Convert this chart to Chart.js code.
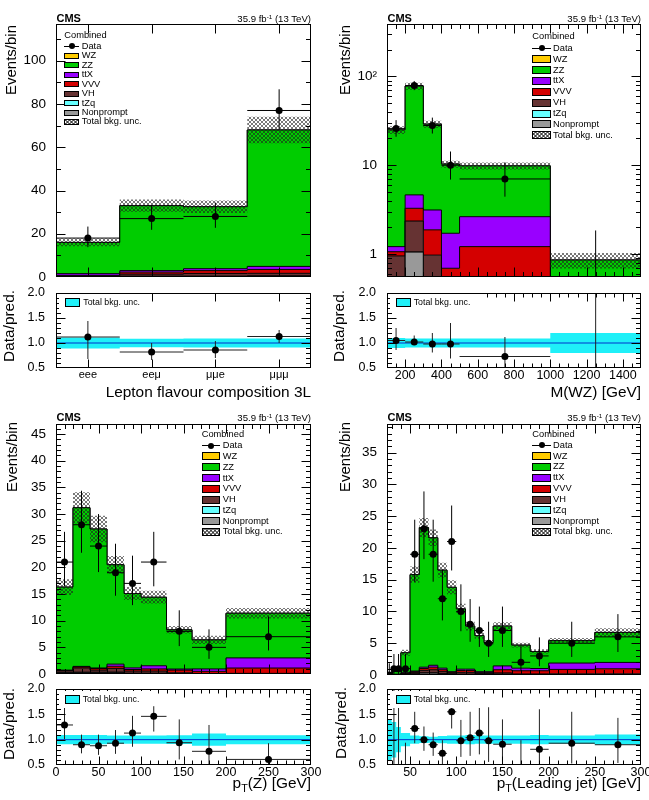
<!DOCTYPE html>
<html><head><meta charset="utf-8">
<script src="https://cdn.jsdelivr.net/npm/chart.js@4.4.1/dist/chart.umd.min.js"></script>
<style>
html,body{margin:0;padding:0;background:#fff;}
body{position:relative;width:649px;height:800px;overflow:hidden;font-family:"Liberation Sans",Arial,Helvetica,sans-serif;}
canvas{position:absolute;}
.t{position:absolute;white-space:nowrap;color:#000;line-height:1;}
.t sup{font-size:0.65em;line-height:0;position:relative;vertical-align:baseline;top:-0.5em;}
.t sub{font-size:0.7em;line-height:0;position:relative;vertical-align:baseline;top:0.35em;}
.sw{position:absolute;box-sizing:border-box;border:1px solid #000;}
.blk{position:absolute;background:#000;}
</style></head><body>
<script>
// ---------------- DATA ----------------
// Panel 1: lepton flavour composition
const flavLabels = ['eee', 'eeμ', 'μμe', 'μμμ'];
const flavEdges = [0, 1, 2, 3, 4];
const flavNonprompt = [0.1, 0.3, 0.3, 0.4];
const flavTZq = [0.05, 0.05, 0.05, 0.1];
const flavVH = [0.3, 1.0, 1.3, 1.2];
const flavVVV = [0.3, 0.9, 1.3, 1.8];
const flavTTX = [0.8, 0.7, 0.9, 1.4];
const flavZZ = [14.45, 30.05, 28.65, 63.1];
const flavWZ = [0, 0, 0, 0];
const flavUnc = [0.11, 0.085, 0.09, 0.09];
const flavData = [18, 27, 28, 77];
const flavDataLo = [4.2, 5.17, 5.26, 8.76];
const flavDataHi = [5.32, 6.29, 6.38, 9.81];
const flavRatio = [1.12, 0.82, 0.86, 1.13];
const flavRatioLo = [0.68, 0.66, 0.70, 1.0];
const flavRatioHi = [1.44, 1.0, 1.04, 1.26];

// Panel 2: M(WZ)
const massEdges = [100, 200, 300, 400, 500, 1000, 1500];
const massNonprompt = [0, 1.05, 0, 0, 0, 0];
const massTZq = [0, 0, 0, 0, 0, 0];
const massVH = [0.95, 1.3, 0.97, 0, 0, 0];
const massVVV = [0.11, 0.92, 0.9, 0.69, 1.21, 0];
const massTTX = [0.15, 1.36, 1.26, 1.02, 1.42, 0];
const massZZ = [23.8, 73.4, 25.9, 8.6, 7.2, 0.855];
const massWZ = [0, 0, 0, 0, 0, 0];
const massUnc = [0.1, 0.09, 0.09, 0.09, 0.09, 0.2];
const massData = [26, 79, 28, 10, 7, 0];
const massDataLo = [5.07, 8.87, 5.26, 3.11, 2.58, 0];
const massDataHi = [6.2, 9.93, 6.38, 4.27, 3.77, 1.84];
const massRatio = [1.05, 1.02, 0.98, 0.98, 0.73, 0];
const massRatioLo = [0.86, 0.97, 0.81, 0.69, 0.45, 0];
const massRatioHi = [1.30, 1.15, 1.20, 1.40, 1.12, 2.15];

// Panel 3: pT(Z)
const ptzEdges = [0, 20, 40, 60, 80, 100, 130, 160, 200, 300];
const ptzNonprompt = [0.3, 0.3, 0.3, 0.3, 0.1, 0.1, 0.05, 0.02, 0.02];
const ptzTZq = [0.02, 0.03, 0.03, 0.05, 0.05, 0.05, 0.03, 0.03, 0.05];
const ptzVH = [0.3, 0.8, 0.4, 0.7, 0.4, 0.4, 0.15, 0.05, 0.05];
const ptzVVV = [0.05, 0.2, 0.3, 0.4, 0.3, 0.4, 0.5, 0.4, 1.0];
const ptzTTX = [0.05, 0.1, 0.1, 0.4, 0.3, 0.6, 0.2, 0.45, 1.9];
const ptzZZ = [15.58, 29.77, 26.07, 18.65, 13.95, 12.85, 7.37, 5.45, 8.38];
const ptzWZ = [0, 0, 0, 0, 0, 0, 0, 0, 0];
const ptzUnc = [0.09, 0.093, 0.092, 0.08, 0.08, 0.083, 0.085, 0.12, 0.088];
const ptzData = [21, 28, 24, 19, 17, 21, 8, 5, 7];
const ptzDataLo = [4.55, 5.26, 4.88, 4.32, 4.08, 4.55, 2.77, 2.16, 2.58];
const ptzDataHi = [5.67, 6.38, 6.0, 5.44, 5.2, 5.67, 3.95, 3.38, 3.77];
const ptzRatio = [1.29, 0.90, 0.88, 0.93, 1.13, 1.46, 0.94, 0.77, 0.61];
const ptzRatioLo = [1.01, 0.73, 0.70, 0.72, 0.86, 1.16, 0.61, 0.44, 0.39];
const ptzRatioHi = [1.63, 1.10, 1.10, 1.19, 1.47, 1.66, 1.40, 1.29, 0.93];

// Panel 4: pT(leading jet)
const ptjEdges = [25, 30, 35, 40, 50, 60, 70, 80, 90, 100, 110, 120, 130, 140, 160, 180, 200, 250, 300];
const ptjNonprompt = [0.05, 0.05, 0.05, 0.1, 0.15, 0.3, 0.3, 0.2, 0.1, 0.1, 0.1, 0.05, 0.05, 0.1, 0.05, 0.05, 0.05, 0.05];
const ptjTZq = [0, 0, 0, 0, 0.02, 0.03, 0.03, 0.03, 0.02, 0.02, 0.02, 0.02, 0.02, 0.03, 0.02, 0.02, 0.03, 0.03];
const ptjVH = [0.02, 0.03, 0.03, 0.1, 0.2, 0.4, 0.5, 0.3, 0.15, 0.3, 0.3, 0.15, 0.15, 0.2, 0.1, 0.1, 0.1, 0.1];
const ptjVVV = [0.02, 0.02, 0.02, 0.1, 0.15, 0.3, 0.4, 0.3, 0.15, 0.3, 0.3, 0.15, 0.15, 0.5, 0.5, 0.5, 0.7, 0.8];
const ptjTTX = [0.01, 0.02, 0.02, 0.05, 0.1, 0.2, 0.3, 0.25, 0.1, 0.2, 0.2, 0.15, 0.15, 0.6, 0.4, 0.35, 1.0, 1.0];
const ptjZZ = [0.2, 0.43, 0.45, 3.15, 15.18, 21.97, 20.07, 15.42, 13.28, 9.48, 6.78, 5.68, 4.58, 6.27, 3.63, 2.68, 3.52, 4.72];
const ptjWZ = [0, 0, 0, 0, 0, 0, 0, 0, 0, 0, 0, 0, 0, 0, 0, 0, 0, 0];
const ptjUnc = [0.4, 0.35, 0.25, 0.13, 0.08, 0.065, 0.06, 0.07, 0.08, 0.08, 0.09, 0.08, 0.08, 0.08, 0.08, 0.09, 0.08, 0.1];
const ptjData = [0, 1, 1, 1, 19, 23, 19, 12, 21, 10, 8, 7, 5, 7, 2, 3, 5, 6];
const ptjDataLo = [0, 0.83, 0.83, 0.83, 4.32, 4.77, 4.32, 3.41, 4.55, 3.11, 2.77, 2.58, 2.16, 2.58, 1.29, 1.63, 2.16, 2.38];
const ptjDataHi = [1.84, 2.3, 2.3, 2.3, 5.44, 5.89, 5.44, 4.58, 5.67, 4.27, 3.95, 3.77, 3.38, 3.77, 2.64, 2.92, 3.38, 3.58];
const ptjRatio = [null, 1.82, 1.75, 0.29, 1.22, 1.0, 0.9, 0.73, 1.55, 0.98, 1.04, 1.13, 0.98, 0.91, 0.43, 0.81, 0.93, 0.9];
const ptjRatioLo = [null, 0.31, 0.3, 0.05, 0.93, 0.78, 0.68, 0.52, 1.22, 0.66, 0.68, 0.71, 0.56, 0.57, 0.15, 0.37, 0.53, 0.54];
const ptjRatioHi = [null, 6, 5.8, 0.94, 1.55, 1.26, 1.14, 0.99, 1.95, 1.39, 1.55, 1.74, 1.64, 1.40, 0.99, 1.6, 1.55, 1.43];

// Tick labels
const flavYTicks = [0, 20, 40, 60, 80, 100];
const massYTicks = [1, 10, 100];
const ptzYTicks = [0, 5, 10, 15, 20, 25, 30, 35, 40, 45];
const ptjYTicks = [0, 5, 10, 15, 20, 25, 30, 35];
const ratioYTicks = [0.5, 1.0, 1.5, 2.0];
const massXTicks = [200, 400, 600, 800, 1000, 1200, 1400];
const ptzXTicks = [0, 50, 100, 150, 200, 250, 300];
const ptjXTicks = [50, 100, 150, 200, 250, 300];
const flavXTicks = [0.5, 1.5, 2.5, 3.5];

// ---------------- STYLE / HELPERS ----------------
const FONT = '"Liberation Sans", Arial, Helvetica, sans-serif';
Chart.defaults.font.family = FONT;
Chart.defaults.color = '#000';
const COL = {WZ: '#ffcc00', ZZ: '#00cc00', ttX: '#9900ff', VVV: '#d40000', VH: '#663333', tZq: '#66ffff', Nonprompt: '#999999'};
const CYAN = '#1ff0f8';

const hatch = (() => {
  const c = document.createElement('canvas'); c.width = 4; c.height = 4;
  const g = c.getContext('2d');
  g.strokeStyle = 'rgba(30,30,30,0.6)'; g.lineWidth = 1;
  g.beginPath(); g.moveTo(0, 0); g.lineTo(4, 4); g.moveTo(4, 0); g.lineTo(0, 4); g.stroke();
  return g.createPattern(c, 'repeat');
})();

function range(a, b, s) { const r = []; for (let v = a; v <= b + 1e-9; v += s) r.push(Math.round(v * 1000) / 1000); return r; }
function minus(arr, majors) { return arr.filter(v => !majors.some(m => Math.abs(m - v) < 1e-6)); }

const frameTicks = {
  id: 'frameTicks',
  afterDraw(chart) {
    const o = chart.canvas.tickCfg; if (!o) return;
    const {ctx, chartArea: a} = chart;
    const xs = chart.scales.x, ys = chart.scales.y;
    const L = a.left + 0.5, R = a.right - 0.5, T = a.top + 0.5, B = a.bottom - 0.5;
    ctx.save();
    ctx.strokeStyle = '#000'; ctx.lineWidth = 1;
    ctx.beginPath();
    const tx = (vals, len) => vals.forEach(v => {
      const p = Math.round(xs.getPixelForValue(v)) + 0.5; if (p < L - 0.1 || p > R + 0.1) return;
      ctx.moveTo(p, B); ctx.lineTo(p, B - len); ctx.moveTo(p, T); ctx.lineTo(p, T + len);
    });
    const ty = (vals, len) => vals.forEach(v => {
      const p = Math.round(ys.getPixelForValue(v)) + 0.5; if (p < T - 0.1 || p > B + 0.1) return;
      ctx.moveTo(L, p); ctx.lineTo(L + len, p); ctx.moveTo(R, p); ctx.lineTo(R - len, p);
    });
    tx(o.xMajor, o.xLen); tx(o.xMinor, o.xLen / 2);
    ty(o.yMajor, o.yLen); ty(o.yMinor, o.yLen / 2);
    ctx.stroke();
    ctx.strokeRect(L, T, R - L, B - T);
    ctx.restore();
  }
};
Chart.register(frameTicks);

function addCanvas(x, y, w, h) {
  const c = document.createElement('canvas');
  c.width = w; c.height = h;
  Object.assign(c.style, {left: x + 'px', top: y + 'px', width: w + 'px', height: h + 'px'});
  document.body.appendChild(c);
  return c;
}
function fitH(h) { return s => { s.height = h; s.paddingLeft = s.paddingRight = s.paddingTop = s.paddingBottom = 0; }; }
function fitW(w) { return s => { s.width = w; s.paddingLeft = s.paddingRight = s.paddingTop = s.paddingBottom = 0; }; }
function setTicks(vals) { return s => { s.ticks = vals.map(v => ({value: v})); }; }

function stepPoints(edges, vals) {
  const pts = vals.map((v, i) => ({x: edges[i], y: v}));
  pts.push({x: edges[edges.length - 1], y: vals[vals.length - 1]});
  return pts;
}
function errSegments(edges, vals, lows, highs, tf) {
  const pts = [];
  vals.forEach((v, i) => {
    if (v === null) return;
    const c = (edges[i] + edges[i + 1]) / 2;
    pts.push({x: c, y: tf(lows[i])}, {x: c, y: tf(highs[i])}, {x: c, y: null});
    pts.push({x: edges[i], y: tf(v)}, {x: edges[i + 1], y: tf(v)}, {x: edges[i + 1], y: null});
  });
  return pts;
}
function centers(edges, vals, tf) {
  return vals.map((v, i) => ({x: (edges[i] + edges[i + 1]) / 2, y: v === null ? null : tf(v)}));
}

const baseOpts = (p) => ({
  responsive: false, animation: false, events: [],
  layout: {padding: {left: 0, top: p.T, right: p.R, bottom: 0}},
  plugins: {legend: {display: false}, tooltip: {enabled: false}, title: {display: false}},
  elements: {line: {tension: 0}}
});

function makeMain(p) {
  const cv = addCanvas(p.x, p.y, p.w, p.h);
  cv.tickCfg = p.ticks;
  const tf = p.log ? (v => v === null ? null : Math.max(v, 1e-4)) : (v => v);
  const ds = [];
  const n = p.edges.length - 1;
  let cum = new Array(n).fill(0);
  p.comps.forEach((c, k) => {
    cum = cum.map((v, i) => v + c.values[i]);
    ds.push({data: stepPoints(p.edges, cum.map(tf)), stepped: true, borderColor: '#000', borderWidth: 1,
      backgroundColor: c.color, fill: k === 0 ? 'start' : '-1', pointRadius: 0, order: 20 + k});
  });
  const total = cum;
  ds.push({data: stepPoints(p.edges, total.map((v, i) => tf(v * (1 - p.unc[i])))), stepped: true,
    borderColor: 'transparent', borderWidth: 0, pointRadius: 0, fill: false, order: 4});
  ds.push({data: stepPoints(p.edges, total.map((v, i) => tf(v * (1 + p.unc[i])))), stepped: true,
    borderColor: 'transparent', borderWidth: 0, pointRadius: 0, fill: '-1', backgroundColor: hatch, order: 3});
  const lows = p.data.map((v, i) => v - p.dataLo[i]);
  const highs = p.data.map((v, i) => v + p.dataHi[i]);
  ds.push({data: errSegments(p.edges, p.data, lows, highs, tf), borderColor: '#000', borderWidth: 1,
    pointRadius: 0, fill: false, spanGaps: false, order: 1});
  const ptVals = p.data.map(v => (p.log && v === 0) ? null : v);
  ds.push({data: centers(p.edges, ptVals, tf), showLine: false, pointRadius: 3.5, pointBackgroundColor: '#000',
    pointBorderColor: '#000', pointBorderWidth: 0, order: 0});
  const opts = baseOpts(p);
  opts.scales = {
    x: {type: 'linear', min: p.xMin, max: p.xMax, bounds: 'data', grid: {display: false}, border: {display: false},
      ticks: {display: false}, afterFit: fitH(p.B)},
    y: {type: p.log ? 'logarithmic' : 'linear', min: p.yMin, max: p.yMax, bounds: 'data',
      grid: {display: false}, border: {display: false},
      ticks: {font: {size: 13.5}, padding: 2, autoSkip: false, callback: p.yLabel},
      afterBuildTicks: setTicks(p.yTicks), afterFit: fitW(p.L)}
  };
  new Chart(cv, {type: 'line', data: {datasets: ds}, options: opts});
}

function makeRatio(p) {
  const cv = addCanvas(p.x, p.y, p.w, p.h);
  cv.tickCfg = p.ticks;
  const id = v => v;
  const ds = [];
  ds.push({data: stepPoints(p.edges, p.unc.map(u => 1 - u)), stepped: true, borderColor: 'transparent', borderWidth: 0,
    pointRadius: 0, fill: false, order: 5});
  ds.push({data: stepPoints(p.edges, p.unc.map(u => 1 + u)), stepped: true, borderColor: 'transparent', borderWidth: 0,
    pointRadius: 0, fill: '-1', backgroundColor: CYAN, order: 4});
  ds.push({data: [{x: p.xMin, y: 1}, {x: p.xMax, y: 1}], borderColor: '#0033cc', borderWidth: 1, pointRadius: 0, fill: false, order: 3});
  ds.push({data: errSegments(p.edges, p.ratio, p.ratioLo, p.ratioHi, id), borderColor: '#222', borderWidth: 1,
    pointRadius: 0, fill: false, spanGaps: false, order: 1});
  ds.push({data: centers(p.edges, p.ratio, id), showLine: false, pointRadius: 3.5, pointBackgroundColor: '#000',
    pointBorderColor: '#000', pointBorderWidth: 0, order: 0});
  const opts = baseOpts(p);
  opts.scales = {
    x: {type: 'linear', min: p.xMin, max: p.xMax, bounds: 'data', grid: {display: false}, border: {display: false},
      ticks: {font: {size: p.xFont || 12.5}, padding: -8, autoSkip: false, maxRotation: 0, minRotation: 0, callback: p.xLabel},
      afterBuildTicks: setTicks(p.xTicks), afterFit: fitH(p.B)},
    y: {type: 'linear', min: 0.5, max: 2.0, bounds: 'data', grid: {display: false}, border: {display: false},
      ticks: {font: {size: 12.5}, padding: 3, autoSkip: false, callback: v => v.toFixed(1)},
      afterBuildTicks: setTicks(ratioYTicks), afterFit: fitW(p.L)}
  };
  new Chart(cv, {type: 'line', data: {datasets: ds}, options: opts});
}

function comps(np, tzq, vh, vvv, ttx, zz, wz) {
  return [
    {values: np, color: COL.Nonprompt}, {values: tzq, color: COL.tZq}, {values: vh, color: COL.VH},
    {values: vvv, color: COL.VVV}, {values: ttx, color: COL.ttX}, {values: zz, color: COL.ZZ}, {values: wz, color: COL.WZ}
  ];
}

const ratioMinor = minus(range(0.5, 2.0, 0.1), ratioYTicks);
const numLabel = v => String(v);

// ---------------- PANEL 1 ----------------
makeMain({x: 0, y: 0, w: 325, h: 300, L: 56, T: 24, R: 14, B: 23,
  edges: flavEdges, comps: comps(flavNonprompt, flavTZq, flavVH, flavVVV, flavTTX, flavZZ, flavWZ),
  unc: flavUnc, data: flavData, dataLo: flavDataLo, dataHi: flavDataHi,
  xMin: 0, xMax: 4, yMin: 0, yMax: 117, yTicks: flavYTicks, yLabel: numLabel,
  ticks: {xMajor: flavXTicks, xMinor: [], yMajor: flavYTicks, yMinor: [10, 30, 50, 70, 90, 110], xLen: 9, yLen: 9}});
makeRatio({x: 0, y: 280, w: 325, h: 120, L: 56, T: 13, R: 14, B: 32,
  edges: flavEdges, unc: flavUnc, ratio: flavRatio, ratioLo: flavRatioLo, ratioHi: flavRatioHi,
  xMin: 0, xMax: 4, xTicks: flavXTicks, xFont: 11, xLabel: v => flavLabels[Math.floor(v)],
  ticks: {xMajor: flavXTicks, xMinor: [], yMajor: ratioYTicks, yMinor: ratioMinor, xLen: 8, yLen: 9}});

// ---------------- PANEL 2 ----------------
const massLogMinor = [0.6, 0.7, 0.8, 0.9, 2, 3, 4, 5, 6, 7, 8, 9, 20, 30, 40, 50, 60, 70, 80, 90, 200, 300];
makeMain({x: 325, y: 0, w: 324, h: 300, L: 62, T: 24, R: 8, B: 23, log: true,
  edges: massEdges, comps: comps(massNonprompt, massTZq, massVH, massVVV, massTTX, massZZ, massWZ),
  unc: massUnc, data: massData, dataLo: massDataLo, dataHi: massDataHi,
  xMin: 100, xMax: 1500, yMin: 0.55, yMax: 390, yTicks: massYTicks,
  yLabel: v => (v === 100 ? '10²' : String(v)),
  ticks: {xMajor: massXTicks, xMinor: minus(range(100, 1500, 50), massXTicks), yMajor: massYTicks, yMinor: massLogMinor, xLen: 9, yLen: 9}});
makeRatio({x: 325, y: 280, w: 324, h: 120, L: 62, T: 13, R: 8, B: 32,
  edges: massEdges, unc: massUnc, ratio: massRatio, ratioLo: massRatioLo, ratioHi: massRatioHi,
  xMin: 100, xMax: 1500, xTicks: massXTicks, xLabel: numLabel,
  ticks: {xMajor: massXTicks, xMinor: minus(range(100, 1500, 50), massXTicks), yMajor: ratioYTicks, yMinor: ratioMinor, xLen: 8, yLen: 9}});

// ---------------- PANEL 3 ----------------
makeMain({x: 0, y: 400, w: 325, h: 290, L: 56, T: 24, R: 14, B: 16,
  edges: ptzEdges, comps: comps(ptzNonprompt, ptzTZq, ptzVH, ptzVVV, ptzTTX, ptzZZ, ptzWZ),
  unc: ptzUnc, data: ptzData, dataLo: ptzDataLo, dataHi: ptzDataHi,
  xMin: 0, xMax: 300, yMin: 0, yMax: 46.9, yTicks: ptzYTicks, yLabel: numLabel,
  ticks: {xMajor: ptzXTicks, xMinor: minus(range(0, 300, 10), ptzXTicks), yMajor: ptzYTicks, yMinor: minus(range(0, 46, 1), ptzYTicks), xLen: 9, yLen: 9}});
makeRatio({x: 0, y: 675, w: 325, h: 125, L: 56, T: 14, R: 14, B: 35,
  edges: ptzEdges, unc: ptzUnc, ratio: ptzRatio, ratioLo: ptzRatioLo, ratioHi: ptzRatioHi,
  xMin: 0, xMax: 300, xTicks: ptzXTicks, xLabel: numLabel,
  ticks: {xMajor: ptzXTicks, xMinor: minus(range(0, 300, 10), ptzXTicks), yMajor: ratioYTicks, yMinor: ratioMinor, xLen: 8, yLen: 9}});

// ---------------- PANEL 4 ----------------
makeMain({x: 325, y: 400, w: 324, h: 290, L: 62, T: 24, R: 8, B: 15,
  edges: ptjEdges, comps: comps(ptjNonprompt, ptjTZq, ptjVH, ptjVVV, ptjTTX, ptjZZ, ptjWZ),
  unc: ptjUnc, data: ptjData, dataLo: ptjDataLo, dataHi: ptjDataHi,
  xMin: 25, xMax: 300, yMin: 0, yMax: 39.5, yTicks: ptjYTicks, yLabel: numLabel,
  ticks: {xMajor: ptjXTicks, xMinor: minus(range(30, 300, 10), ptjXTicks), yMajor: ptjYTicks, yMinor: minus(range(0, 39, 1), ptjYTicks), xLen: 9, yLen: 9}});
makeRatio({x: 325, y: 675, w: 324, h: 125, L: 62, T: 14, R: 8, B: 35,
  edges: ptjEdges, unc: ptjUnc, ratio: ptjRatio, ratioLo: ptjRatioLo, ratioHi: ptjRatioHi,
  xMin: 25, xMax: 300, xTicks: ptjXTicks, xLabel: numLabel,
  ticks: {xMajor: ptjXTicks, xMinor: minus(range(30, 300, 10), ptjXTicks), yMajor: ratioYTicks, yMinor: ratioMinor, xLen: 8, yLen: 9}});

// ---------------- TEXT OVERLAYS ----------------
function txt(html, x, baseline, size, opt) {
  opt = opt || {};
  const d = document.createElement('div');
  d.className = 't';
  d.innerHTML = html;
  d.style.fontSize = size + 'px';
  d.style.top = (baseline - 0.8465 * size) + 'px';
  if (opt.bold) d.style.fontWeight = 'bold';
  if (opt.right) d.style.right = (649 - x) + 'px'; else d.style.left = x + 'px';
  document.body.appendChild(d);
  return d;
}
function vtxt(html, xc, yTop, size) {
  const d = document.createElement('div');
  d.className = 't';
  d.innerHTML = html;
  d.style.fontSize = size + 'px';
  d.style.left = xc + 'px';
  d.style.top = yTop + 'px';
  d.style.transformOrigin = '0 0';
  d.style.transform = 'rotate(-90deg) translate(-100%, -50%)';
  document.body.appendChild(d);
}
function box(x, y, w, h, cls, style) {
  const d = document.createElement('div');
  d.className = cls;
  Object.assign(d.style, {left: x + 'px', top: y + 'px', width: w + 'px', height: h + 'px'}, style || {});
  document.body.appendChild(d);
  return d;
}
const HATCH_CSS = 'repeating-linear-gradient(45deg, rgba(30,30,30,.6) 0 1px, transparent 1px 2.8px), repeating-linear-gradient(-45deg, rgba(30,30,30,.6) 0 1px, #fff 1px 2.8px)';
const legendNames = ['WZ', 'ZZ', 'ttX', 'VVV', 'VH', 'tZq', 'Nonprompt'];

function mainLegend(x, swW, swH, tx, yComb, yData, step, fs) {
  txt('Combined', x, yComb + 0.358 * fs, fs);
  box(x, yData - 0.5, swW, 1, 'blk');
  box(x + swW / 2 - 3, yData - 3, 6, 6, 'blk', {borderRadius: '50%'});
  txt('Data', tx, yData + 0.358 * fs, fs);
  legendNames.forEach((nm, k) => {
    const y = yData + (k + 1) * step;
    box(x, y - swH / 2, swW, swH, 'sw', {background: COL[nm]});
    txt(nm, tx, y + 0.358 * fs, fs);
  });
  const y = yData + 8 * step;
  box(x, y - swH / 2, swW, swH, 'sw', {background: HATCH_CSS});
  txt('Total bkg. unc.', tx, y + 0.358 * fs, fs);
}
function ratioLegend(x, yc, tx) {
  box(x - 6, yc - 8.5, 92, 17, 'blk', {background: '#fff'});
  box(x, yc - 4.5, 15, 9, 'sw', {background: CYAN});
  txt('Total bkg. unc.', tx, yc + 0.358 * 8.8, 8.8);
}

[[56.5, 311, 22], [387.5, 641, 22], [56.5, 311, 421], [387.5, 641, 421]].forEach(([l, r, b]) => {
  txt('CMS', l, b, 11, {bold: true});
  txt('35.9 fb<sup>-1</sup> (13 TeV)', r, b, 9.6, {right: true});
});

mainLegend(64.3, 15, 6, 81.7, 36, 46.3, 9.46, 9.3);
mainLegend(532.3, 18.4, 8, 553, 36.7, 48.3, 10.875, 9.3);
mainLegend(201.7, 18.3, 8, 222.7, 434.3, 445.7, 10.79, 9.3);
mainLegend(532.3, 18.4, 8, 553, 434.3, 445.3, 10.84, 9.3);

ratioLegend(65, 302.5, 83.3);
ratioLegend(396, 302.5, 413.7);
ratioLegend(65, 699.3, 82.7);
ratioLegend(396, 699, 413.7);

vtxt('Events/bin', 10, 25, 15);
vtxt('Events/bin', 343.5, 25, 15);
vtxt('Events/bin', 11, 422, 15);
vtxt('Events/bin', 344, 422, 15);
vtxt('Data/pred.', 9.2, 290, 15.4);
vtxt('Data/pred.', 339, 290, 15.4);
vtxt('Data/pred.', 9, 688, 15.4);
vtxt('Data/pred.', 341, 687, 15.4);
txt('Lepton flavour composition 3L', 311, 396.7, 15.4, {right: true});
txt('M(WZ) [GeV]', 641, 397, 15.4, {right: true});
txt('p<sub>T</sub>(Z) [GeV]', 311, 788, 15.4, {right: true});
txt('p<sub>T</sub>(Leading jet) [GeV]', 641, 788, 15.4, {right: true});
</script>
</body></html>
